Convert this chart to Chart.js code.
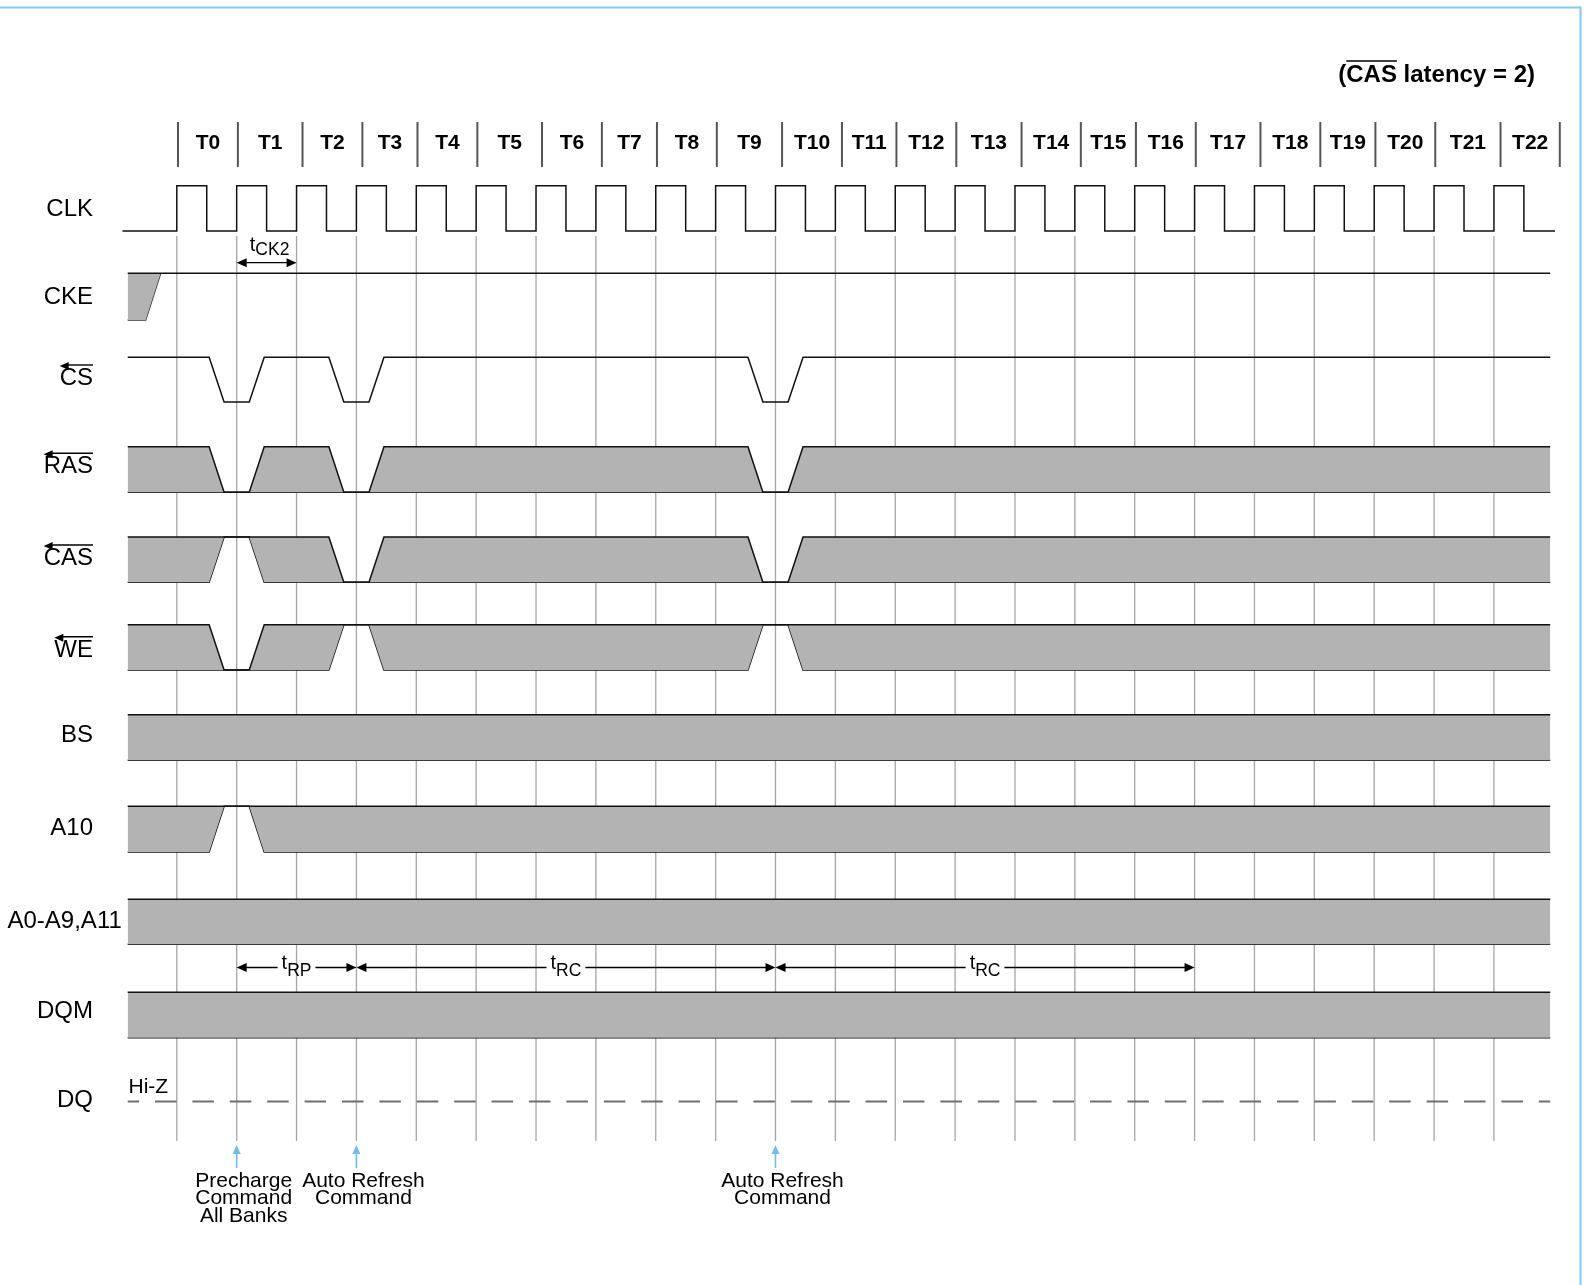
<!DOCTYPE html>
<html>
<head>
<meta charset="utf-8">
<title>Auto Refresh Cycle</title>
<script src="https://cdn.jsdelivr.net/npm/chart.js@4.4.0/dist/chart.umd.min.js"></script>
<style>
  html, body { margin: 0; padding: 0; background: #fff; }
  #wrap { position: relative; width: 1585px; height: 1285px; }
</style>
</head>
<body>
<div id="wrap"><canvas id="canvas" width="1585" height="1285"></canvas></div>
<script>
// clock cycles (header tick labels)
const cycles = ['T0', 'T1', 'T2', 'T3', 'T4', 'T5', 'T6', 'T7', 'T8', 'T9', 'T10', 'T11',
  'T12', 'T13', 'T14', 'T15', 'T16', 'T17', 'T18', 'T19', 'T20', 'T21', 'T22'];
// header separator marks, in clock periods from T0
const headerMarks = [0.02, 1.02, 2.10, 3.10, 4.02, 5.02, 6.10, 7.10, 8.02, 9.02, 10.11, 11.11,
  12.02, 13.02, 14.11, 15.10, 16.02, 17.02, 18.10, 19.10, 20.02, 21.02, 22.11, 23.10];

// clock edges where a strobe is sampled low / high
const ckeValidAt = [-0.06];
const csLow = [1, 3, 10];
const rasLow = [1, 3, 10];
const casHigh = [1];
const casLow = [3, 10];
const weLow = [1];
const weHigh = [3, 10];
const a10High = [1];

// timing parameters: [name, from edge, to edge]
const timings = [['CK2', 1, 2], ['RP', 1, 3], ['RC', 3, 10], ['RC', 10, 17]];
// command markers
const commandAt = [1, 3, 10];
const commandText = [['Precharge', 'Command', 'All Banks'], ['Auto Refresh', 'Command'], ['Auto Refresh', 'Command']];

// ---- layout ----
const W = 1585, H = 1285;
const PX0 = 176.8, PERIOD = 59.87;
const T_START = -0.82, T_END = 22.94;
const EDGE_A = 0.46, EDGE_B = 0.21;
const FILL = '#b3b3b3', INK = '#111';
const FONT = '"Liberation Sans", Arial, sans-serif';

const rows = {
  CLK: { label: 'CLK', hi: 185.7, lo: 231, base: 216 },
  CKE: { label: 'CKE', hi: 273.3, lo: 320, base: 303.7 },
  CS: { label: 'CS', hi: 357.3, lo: 402, base: 385, bar: true },
  RAS: { label: 'RAS', hi: 446.7, lo: 492.3, base: 473.3, bar: true },
  CAS: { label: 'CAS', hi: 537, lo: 582.3, base: 565, bar: true },
  WE: { label: 'WE', hi: 624.7, lo: 670, base: 656.7, bar: true },
  BS: { label: 'BS', hi: 714.7, lo: 760.3, base: 742.3 },
  A10: { label: 'A10', hi: 806.3, lo: 852, base: 835 },
  ADDR: { label: 'A0-A9,A11', hi: 899.3, lo: 944.3, base: 927.7 },
  DQM: { label: 'DQM', hi: 992.3, lo: 1037.7, base: 1018.3 },
  DQ: { label: 'DQ', hi: 1101.5, lo: 1101.5, base: 1106.7 }
};

function lineSet(data, extra) {
  return Object.assign({ data: data, borderColor: INK, borderWidth: 1.5, pointRadius: 0,
    fill: false, tension: 0, borderJoinStyle: 'miter' }, extra || {});
}

// band (don't care) with edges where it collapses to a level
function band(r, lowAt, highAt, tStart) {
  const ev = lowAt.map(n => ({ n: n, up: false })).concat(highAt.map(n => ({ n: n, up: true })));
  ev.sort((a, b) => a.n - b.n);
  const U = [{ x: tStart, y: r.hi }], L = [{ x: tStart, y: r.lo }];
  ev.forEach(e => {
    const xs = [e.n - EDGE_A, e.n - EDGE_B, e.n + EDGE_B, e.n + EDGE_A];
    const moved = [false, true, true, false];
    xs.forEach((x, i) => {
      if (e.up) { U.push({ x: x, y: r.hi }); L.push({ x: x, y: moved[i] ? r.hi : r.lo }); }
      else { U.push({ x: x, y: moved[i] ? r.lo : r.hi }); L.push({ x: x, y: r.lo }); }
    });
  });
  U.push({ x: T_END, y: r.hi }); L.push({ x: T_END, y: r.lo });
  return [lineSet(U, { fill: '+1', backgroundColor: FILL }), lineSet(L)];
}

const datasets = [];

// CLK
const clk = [{ x: -0.907, y: rows.CLK.lo }];
cycles.forEach((c, i) => {
  clk.push({ x: i, y: rows.CLK.lo }, { x: i, y: rows.CLK.hi }, { x: i + 0.5, y: rows.CLK.hi }, { x: i + 0.5, y: rows.CLK.lo });
});
clk.push({ x: 23.02, y: rows.CLK.lo });
datasets.push(lineSet(clk));

// CKE: high line plus the invalid wedge before it goes valid
datasets.push(lineSet([{ x: T_START, y: rows.CKE.hi }, { x: T_END, y: rows.CKE.hi }]));
const ckeU = [{ x: T_START, y: rows.CKE.hi }], ckeL = [{ x: T_START, y: rows.CKE.lo }];
ckeValidAt.forEach(n => {
  ckeU.push({ x: n - EDGE_A, y: rows.CKE.hi }, { x: n - EDGE_B, y: rows.CKE.hi });
  ckeL.push({ x: n - EDGE_A, y: rows.CKE.lo }, { x: n - EDGE_B, y: rows.CKE.hi });
});
datasets.push(lineSet(ckeU, { fill: '+1', backgroundColor: FILL, borderWidth: 0 }));
datasets.push(lineSet(ckeL, { borderColor: '#333' }));

// CS single line
const cs = [{ x: T_START, y: rows.CS.hi }];
csLow.forEach(n => {
  cs.push({ x: n - EDGE_A, y: rows.CS.hi }, { x: n - EDGE_B, y: rows.CS.lo },
    { x: n + EDGE_B, y: rows.CS.lo }, { x: n + EDGE_A, y: rows.CS.hi });
});
cs.push({ x: T_END, y: rows.CS.hi });
datasets.push(lineSet(cs));

datasets.push(...band(rows.RAS, rasLow, [], T_START));
datasets.push(...band(rows.CAS, casLow, casHigh, T_START));
datasets.push(...band(rows.WE, weLow, weHigh, T_START));
datasets.push(...band(rows.BS, [], [], T_START));
datasets.push(...band(rows.A10, [], a10High, T_START));
datasets.push(...band(rows.ADDR, [], [], T_START));
datasets.push(...band(rows.DQM, [], [], T_START));

// DQ Hi-Z dashed
datasets.push(lineSet([{ x: T_START, y: rows.DQ.hi }, { x: T_END, y: rows.DQ.hi }],
  { borderColor: '#6e6e6e', borderWidth: 2, borderDash: [21.5, 15.9], borderDashOffset: 10.1 }));

function tri(ctx, pts, color) {
  ctx.fillStyle = color;
  ctx.beginPath();
  ctx.moveTo(pts[0][0], pts[0][1]);
  ctx.lineTo(pts[1][0], pts[1][1]);
  ctx.lineTo(pts[2][0], pts[2][1]);
  ctx.closePath();
  ctx.fill();
}

function seg(ctx, x1, y1, x2, y2) {
  ctx.beginPath(); ctx.moveTo(x1, y1); ctx.lineTo(x2, y2); ctx.stroke();
}

const timingPlugin = {
  id: 'timing',
  beforeDatasetsDraw(chart) {
    const ctx = chart.ctx, x = chart.scales.x;
    ctx.save();
    // frame
    ctx.strokeStyle = '#86c5f4'; ctx.lineWidth = 2;
    ctx.beginPath(); ctx.moveTo(0, 7.5); ctx.lineTo(1580.5, 7.5); ctx.lineTo(1580.5, H); ctx.stroke();
    // clock grid
    ctx.strokeStyle = '#a6a6a6'; ctx.lineWidth = 1.3;
    cycles.forEach((c, i) => {
      const px = x.getPixelForValue(i);
      seg(ctx, px, 236, px, 1141);
    });
    // header
    ctx.strokeStyle = '#555'; ctx.lineWidth = 2;
    headerMarks.forEach(m => {
      const px = x.getPixelForValue(m);
      seg(ctx, px, 122, px, 167);
    });
    ctx.fillStyle = '#000';
    ctx.font = 'bold 21px ' + FONT;
    ctx.textAlign = 'center'; ctx.textBaseline = 'alphabetic';
    cycles.forEach((c, i) => {
      const px = x.getPixelForValue((headerMarks[i] + headerMarks[i + 1]) / 2);
      ctx.fillText(c, px, 148.5);
    });
    ctx.restore();
  },
  afterDatasetsDraw(chart) {
    const ctx = chart.ctx, x = chart.scales.x;
    ctx.save();
    ctx.fillStyle = '#000'; ctx.strokeStyle = '#000';
    ctx.textBaseline = 'alphabetic';

    // title
    ctx.font = 'bold 24px ' + FONT;
    ctx.textAlign = 'left';
    const title = '(CAS latency = 2)';
    const tw = ctx.measureText(title).width;
    const tx = 1535 - tw;
    ctx.fillText(title, tx, 81.5);
    const pw = ctx.measureText('(').width, cw = ctx.measureText('CAS').width;
    ctx.lineWidth = 1.5;
    seg(ctx, tx + pw, 61, tx + pw + cw, 61);

    // signal names
    ctx.font = '24px ' + FONT;
    Object.keys(rows).forEach(k => {
      const r = rows[k];
      const w = ctx.measureText(r.label).width;
      let left = 93 - w;
      if (left < 7.5) left = 7.5;
      ctx.textAlign = 'left';
      ctx.fillText(r.label, left, r.base);
      if (r.bar) {
        const y = r.base - 20;
        ctx.lineWidth = 1.4;
        seg(ctx, left + 6, y, left + w, y);
        tri(ctx, [[left, y + 1], [left + 9, y - 3], [left + 9, y + 5]], '#000');
      }
    });

    // Hi-Z
    ctx.font = '21px ' + FONT;
    ctx.textAlign = 'left';
    ctx.fillText('Hi-Z', 128.5, 1092.5);

    // timing arrows
    ctx.lineWidth = 1.3;
    timings.forEach(tm => {
      const x1 = x.getPixelForValue(tm[1]), x2 = x.getPixelForValue(tm[2]);
      const above = tm[0] === 'CK2';
      const y = above ? 262.7 : 967.5;
      ctx.font = '20px ' + FONT;
      const w1 = ctx.measureText('t').width;
      ctx.font = '17.5px ' + FONT;
      const w2 = ctx.measureText(tm[0]).width;
      const cx = (x1 + x2) / 2 + (above ? 3 : 0);
      const lx = cx - (w1 + w2) / 2;
      if (above) {
        seg(ctx, x1 + 6, y, x2 - 6, y);
      } else {
        seg(ctx, x1 + 6, y, lx - 4, y);
        seg(ctx, lx + w1 + w2 + 4, y, x2 - 6, y);
      }
      tri(ctx, [[x1, y], [x1 + 10, y - 4.5], [x1 + 10, y + 4.5]], '#000');
      tri(ctx, [[x2, y], [x2 - 10, y - 4.5], [x2 - 10, y + 4.5]], '#000');
      const b1 = above ? y - 12 : y + 1;
      const b2 = above ? y - 7.5 : y + 8;
      ctx.textAlign = 'left';
      ctx.font = '20px ' + FONT;
      ctx.fillText('t', lx, b1);
      ctx.font = '17.5px ' + FONT;
      ctx.fillText(tm[0], lx + w1, b2);
    });

    // command markers
    ctx.strokeStyle = '#72bbf2'; ctx.lineWidth = 1.6;
    commandAt.forEach((n, i) => {
      const px = x.getPixelForValue(n);
      seg(ctx, px, 1152, px, 1168);
      tri(ctx, [[px, 1145], [px - 4, 1154], [px + 4, 1154]], '#72bbf2');
      ctx.fillStyle = '#000';
      ctx.font = '21px ' + FONT;
      ctx.textAlign = 'center';
      commandText[i].forEach((t, j) => ctx.fillText(t, px + 7, 1186.5 + j * 17.8));
    });
    ctx.restore();
  }
};

new Chart(document.getElementById('canvas'), {
  type: 'line',
  data: { datasets: datasets },
  options: {
    responsive: false,
    animation: false,
    events: [],
    layout: { padding: 0 },
    plugins: { legend: { display: false }, tooltip: { enabled: false } },
    scales: {
      x: { type: 'linear', display: false, min: -PX0 / PERIOD, max: (W - PX0) / PERIOD },
      y: { type: 'linear', display: false, min: 0, max: H, reverse: true }
    }
  },
  plugins: [timingPlugin]
});
</script>
</body>
</html>
